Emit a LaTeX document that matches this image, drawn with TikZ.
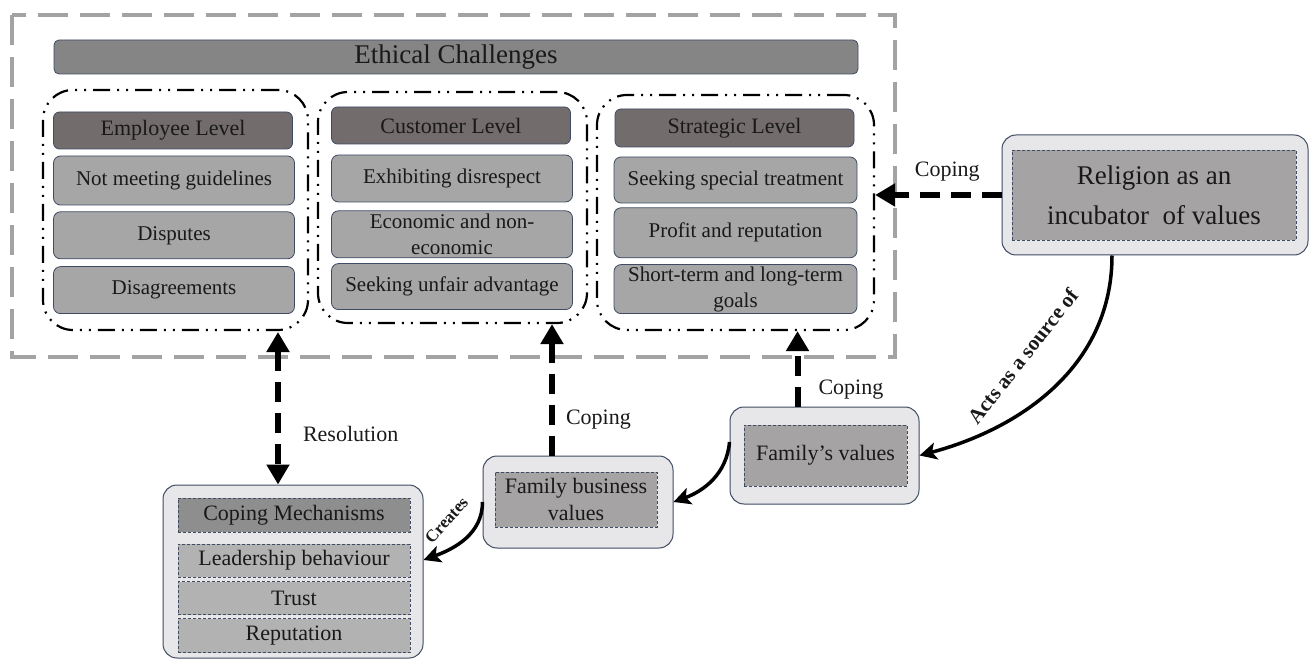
\documentclass[tikz,border=0pt]{standalone}
\usepackage{fontspec}
\setmainfont{Liberation Serif}
\usetikzlibrary{arrows.meta, positioning}
\definecolor{edgeblue}{HTML}{3F4B63}
\definecolor{titlegray}{HTML}{858585}
\definecolor{headgray}{HTML}{736C6C}
\definecolor{itemgray}{HTML}{A6A6A6}
\definecolor{outergray}{HTML}{E7E7E9}
\definecolor{innergray}{HTML}{A5A3A3}
\definecolor{mechhead}{HTML}{8E8E8E}
\definecolor{mechitem}{HTML}{B2B2B2}
\definecolor{framegray}{HTML}{A3A3A3}

\begin{document}
\begin{tikzpicture}[
    x=1pt, y=-1pt,
    every node/.style={align=center, inner sep=0pt, text=black!90},
    bigtitle/.style={draw=edgeblue, fill=titlegray, line width=0.8pt, rounded corners=5pt,
        minimum width=804, minimum height=34, font=\fontsize{27}{30}\selectfont},
    levelhead/.style={draw=edgeblue, fill=headgray, line width=0.8pt, rounded corners=6pt,
        minimum width=239, minimum height=37, font=\fontsize{22}{26}\selectfont},
    levelitem/.style={draw=edgeblue, fill=itemgray, line width=0.8pt, rounded corners=7pt,
        minimum width=241, minimum height=47, font=\fontsize{21}{26}\selectfont},
    levelgroup/.style={draw=black, line width=2.2pt, rounded corners=30pt,
        dash pattern=on 17pt off 7pt on 2pt off 7pt on 2pt off 7pt},
    valouter/.style={draw=edgeblue, fill=outergray, line width=1pt, rounded corners=14pt},
    valinner/.style={draw=edgeblue, fill=innergray, line width=0.8pt, dash pattern=on 3pt off 2pt,
        font=\fontsize{22}{27}\selectfont},
    coping/.style={line width=6pt, dash pattern=on 20pt off 11pt, -{Triangle[length=20pt,width=22pt]}},
    source/.style={line width=3.5pt, -{Stealth[length=17pt,width=17pt,inset=4pt]}},
    lbl/.style={font=\fontsize{22}{26}\selectfont}
]
   \useasboundingbox (0,0) rectangle (1309,660);

   % outer frame
   \draw[framegray, line width=3.5pt, dash pattern=on 30pt off 12pt] (12,15) rectangle (895,357);

   \node[bigtitle] (ethics) at (456,57) {Ethical Challenges};

   % level groups
   \node[levelgroup, minimum width=265, minimum height=240] (grpEmp) at (175.5,210) {};
   \node[levelgroup, minimum width=269, minimum height=231] (grpCus) at (452.5,207.5) {};
   \node[levelgroup, minimum width=277, minimum height=235] (grpStr) at (735.5,212.5) {};

   % employee level
   \node[levelhead] (emp) at (173,130.5) {Employee Level};
   \node[levelitem, minimum height=49] (emp1) at (174,180.5) {Not meeting guidelines};
   \node[levelitem] (emp2) [below=6pt of emp1] {Disputes};
   \node[levelitem] (emp3) [below=7pt of emp2] {Disagreements};

   % customer level
   \node[levelhead] (cus) at (451,125.5) {Customer Level};
   \node[levelitem] (cus1) at (452,178.5) {Exhibiting disrespect};
   \node[levelitem] (cus2) [below=8pt of cus1] {Economic and non-\\economic};
   \node[levelitem, minimum height=46] (cus3) [below=5pt of cus2] {Seeking unfair advantage};

   % strategic level
   \node[levelhead, minimum height=38] (str) at (734.5,128) {Strategic Level};
   \node[levelitem, minimum width=243, minimum height=46] (str1) at (735.5,180) {Seeking special treatment};
   \node[levelitem, minimum width=243, minimum height=50] (str2) [below=4pt of str1] {Profit and reputation};
   \node[levelitem, minimum width=243, minimum height=49] (str3) [below=6pt of str2] {Short-term and long-term\\goals};

   % religion
   \node[valouter, minimum width=306, minimum height=120] (rel) at (1155,195) {};
   \node[valinner, minimum width=284, minimum height=90, font=\fontsize{27}{40}\selectfont] (relIn) at (1154,195)
        {Religion as an\\incubator\ \ of values};

   % family's values
   \node[valouter, minimum width=189, minimum height=97] (fv) at (824.5,455.5) {};
   \node[valinner, minimum width=163, minimum height=61] (fvIn) at (825.5,455.5) {Family’s values};

   % family business values
   \node[valouter, minimum width=190, minimum height=92] (fbv) at (578,502) {};
   \node[valinner, minimum width=162, minimum height=55] (fbvIn) at (576,499.5) {Family business\\values};

   % coping mechanisms
   \node[valouter, minimum width=260, minimum height=173] (mech) at (293,571.5) {};
   \node[valinner, fill=mechhead, minimum width=232, minimum height=34] (mechHd) at (294,515) {Coping Mechanisms};
   \node[valinner, fill=mechitem, minimum width=232, minimum height=33] (mech1) at (294,560.5) {Leadership behaviour};
   \node[valinner, fill=mechitem, minimum width=232, minimum height=33] (mech2) [below=4pt of mech1] {Trust};
   \node[valinner, fill=mechitem, minimum width=232, minimum height=34] (mech3) [below=3pt of mech2] {Reputation};

   \coordinate (resTop) at (278,332);

   % connectors
   \path
   (rel.west) edge [coping] node[lbl, above=11pt, xshift=9pt] {Coping} (rel.west -| grpStr.east)
   ([xshift=-27pt]fv.north) edge [coping] node[lbl, pos=0.22, right=18pt] {Coping} ([xshift=-27pt]fv.north |- grpStr.south)
   ([xshift=-26pt]fbv.north) edge [coping] node[lbl, pos=0.27, right=11pt] {Coping} ([xshift=-26pt]fbv.north |- grpCus.south)
   (resTop) edge [coping, {Triangle[length=20pt,width=22pt]}-{Triangle[length=20pt,width=22pt]}]
        node[lbl, pos=0.67, right=22pt] {Resolution} (resTop |- mech.north)
   ([xshift=-43pt]rel.south) edge [source, out=-90, in=15]
        node[pos=0.35, xshift=-60pt, yshift=-3pt, rotate=52, font=\fontsize{21}{24}\selectfont\bfseries] {Acts as a source of} (fv.east)
   ([yshift=13.5pt]fv.west) edge [source, out=-95, in=20] (fbv.east)
   (fbv.west) edge [source, out=-90, in=20]
        node[pos=0.4, xshift=-24pt, yshift=13pt, rotate=48, font=\fontsize{17}{20}\selectfont\bfseries] {Creates} ([yshift=11.5pt]mech.east);
\end{tikzpicture}
\end{document}
